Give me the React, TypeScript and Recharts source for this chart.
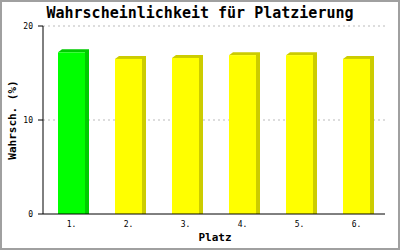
import React from "react";
import { BarChart, Bar, XAxis, YAxis, CartesianGrid } from "recharts";

const categories = ["1.", "2.", "3.", "4.", "5.", "6."];
const values = [17.2, 16.5, 16.6, 16.9, 16.9, 16.5];
const yTicks = [0, 10, 20];
const gridValues = [10, 20];
const frontColors = ["#00ff00", "#ffff00", "#ffff00", "#ffff00", "#ffff00", "#ffff00"];
const sideColors = ["#00cc00", "#cccc00", "#cccc00", "#cccc00", "#cccc00", "#cccc00"];

const data = categories.map((c, i) => ({ name: c, value: values[i] }));

const FONT = "'DejaVu Sans Mono', monospace";

const Bar3D = (props: any) => {
  const { x, y, width, height, index } = props;
  const dx = 4;
  const dy = 3;
  const bottom = y + height;
  const front = frontColors[index];
  const side = sideColors[index];
  return (
    <g>
      <polygon
        points={`${x},${y} ${x + dx},${y - dy} ${x + width + dx},${y - dy} ${x + width + dx},${bottom} ${x + width},${bottom} ${x + width},${y}`}
        fill={side}
        stroke="none"
      />
      <rect x={x} y={y} width={width} height={height} fill={front} stroke="none" />
    </g>
  );
};

const YLabel = (props: any) => {
  const vb = props.viewBox;
  const cx = vb.x + 16;
  const cy = vb.y + vb.height / 2;
  return (
    <text
      x={cx}
      y={cy}
      transform={`rotate(-90, ${cx}, ${cy})`}
      textAnchor="middle"
      fontFamily={FONT}
      fontWeight="bold"
      fontSize={11}
      fill="#000"
    >
      Wahrsch. (%)
    </text>
  );
};

const XLabel = (props: any) => {
  const vb = props.viewBox;
  return (
    <text
      x={vb.x + vb.width / 2 + 1}
      y={vb.y + 27}
      textAnchor="middle"
      fontFamily={FONT}
      fontWeight="bold"
      fontSize={11}
      fill="#000"
    >
      Platz
    </text>
  );
};

export default function App() {
  return (
    <div style={{ position: "absolute", left: 0, top: 0, width: 400, height: 250, background: "#fff" }}>
      <div
        style={{
          position: "absolute",
          left: 0,
          top: 4,
          width: 400,
          textAlign: "center",
          fontFamily: FONT,
          fontWeight: "bold",
          fontSize: 15,
          lineHeight: "normal",
          color: "#000",
          whiteSpace: "nowrap",
        }}
      >
        Wahrscheinlichkeit für Platzierung
      </div>
      <BarChart
        width={400}
        height={250}
        data={data}
        margin={{ top: 26, right: 15, left: 0, bottom: 0 }}
        barCategoryGap={0}
      >
        <CartesianGrid
          horizontal
          vertical={false}
          horizontalValues={gridValues}
          stroke="#bbbbbb"
          strokeDasharray="2 3"
        />
        <XAxis
          dataKey="name"
          height={36}
          tickLine={false}
          tickSize={7}
          tickMargin={0}
          axisLine={{ stroke: "#000" }}
          tick={{ fontFamily: FONT, fontSize: 8, fill: "#000" }}
          interval={0}
          label={<XLabel />}
        />
        <YAxis
          width={43}
          domain={[0, 20]}
          ticks={yTicks}
          allowDataOverflow
          tickSize={5}
          tickMargin={5}
          axisLine={{ stroke: "#000" }}
          tickLine={{ stroke: "#000" }}
          tick={{ fontFamily: FONT, fontSize: 8, fill: "#000" }}
          label={<YLabel />}
        />
        <YAxis
          yAxisId="r"
          orientation="right"
          width={0}
          tick={false}
          tickLine={false}
          axisLine={{ stroke: "#000" }}
        />
        <Bar dataKey="value" barSize={27} shape={<Bar3D />} isAnimationActive={false} />
      </BarChart>
      <div
        style={{
          position: "absolute",
          left: 0,
          top: 0,
          width: 400,
          height: 250,
          boxSizing: "border-box",
          border: "2px solid #a0a0a0",
          pointerEvents: "none",
        }}
      />
    </div>
  );
}
